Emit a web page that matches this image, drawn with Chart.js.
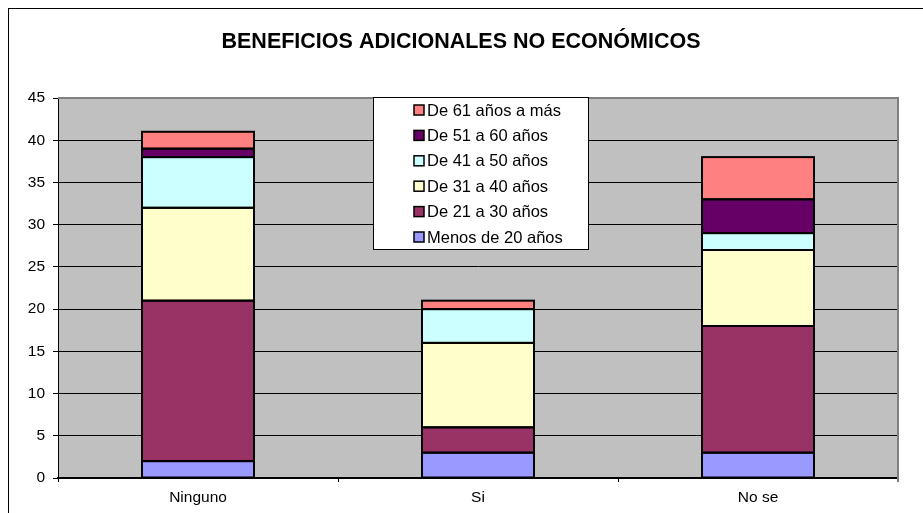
<!DOCTYPE html>
<html>
<head>
<meta charset="utf-8">
<script src="https://cdn.jsdelivr.net/npm/chart.js@4"></script>
<style>
  body { margin: 0; background: #fff; }
  #wrap { width: 923px; height: 513px; position: relative; }
</style>
</head>
<body>
<div id="wrap"><canvas id="benefChart"></canvas></div>
<script>
const categories = ["Ninguno", "Si", "No se"];
const seriesNames = ["Menos de 20 años", "De 21 a 30 años", "De 31 a 40 años",
                     "De 41 a 50 años", "De 51 a 60 años", "De 61 años a más"];
const menos20 = [2, 3, 3];
const de21a30 = [19, 3, 15];
const de31a40 = [11, 10, 9];
const de41a50 = [6, 4, 2];
const de51a60 = [1, 0, 4];
const de61mas = [2, 1, 5];
const yTicks = [0, 5, 10, 15, 20, 25, 30, 35, 40, 45];
const chartTitle = "BENEFICIOS ADICIONALES NO ECONÓMICOS";

const colors = ["#9999FF", "#993366", "#FFFFCC", "#CCFFFF", "#660066", "#FF8080"];
const allValues = [menos20, de21a30, de31a40, de41a50, de51a60, de61mas];

const FONT = "Arial, 'Liberation Sans', sans-serif";

// fondo gris del área, marco exterior, título y leyenda dentro del gráfico
const excelLook = {
    id: "excelLook",
    beforeDraw(chart) {
        const c = chart.ctx, a = chart.chartArea;
        c.save();
        c.fillStyle = "#fff";
        c.fillRect(0, 0, chart.width, chart.height);
        c.strokeStyle = "#000";
        c.lineWidth = 1;
        c.strokeRect(8.5, 8.5, chart.width + 10, chart.height + 10);
        c.fillStyle = "#C0C0C0";
        c.fillRect(a.left, a.top, a.right - a.left, a.bottom - a.top);
        c.restore();
    },
    afterDatasetsDraw(chart) {
        const c = chart.ctx, a = chart.chartArea;
        c.save();
        // contorno uniforme de cada segmento
        c.strokeStyle = "#000";
        c.lineWidth = 2;
        chart.data.datasets.forEach((d, di) => {
            chart.getDatasetMeta(di).data.forEach(bar => {
                const top = Math.min(bar.y, bar.base), h = Math.abs(bar.base - bar.y);
                c.strokeRect(bar.x - bar.width / 2, top, bar.width, h);
            });
        });
        // borde gris superior y derecho
        c.strokeStyle = "#808080";
        c.lineWidth = 2;
        c.beginPath();
        c.moveTo(a.left, a.top);
        c.lineTo(a.right, a.top);
        c.lineTo(a.right, a.bottom + 4);
        c.stroke();
        // título
        c.fillStyle = "#000";
        c.font = "bold 21.5px " + FONT;
        c.textAlign = "center";
        c.textBaseline = "middle";
        c.fillText(chartTitle, 461, 42);
        // leyenda
        const lx = 373, ly = 97, lw = 215, lh = 152;
        c.fillStyle = "#fff";
        c.fillRect(lx, ly, lw, lh);
        c.strokeStyle = "#000";
        c.lineWidth = 1;
        c.strokeRect(lx + 0.5, ly + 0.5, lw, lh);
        c.font = "16.5px " + FONT;
        c.textAlign = "left";
        const ds = chart.data.datasets;
        for (let i = 0; i < ds.length; i++) {
            const d = ds[ds.length - 1 - i];
            const y = 110 + i * 25.4;
            c.fillStyle = d.backgroundColor;
            c.fillRect(414, y - 5, 10, 10);
            c.strokeStyle = "#000";
            c.lineWidth = 1.5;
            c.strokeRect(414, y - 5, 10, 10);
            c.fillStyle = "#000";
            c.fillText(d.label, 427, y + 1);
        }
        c.restore();
    }
};

const datasets = seriesNames.map((name, i) => ({
    label: name,
    data: allValues[i],
    backgroundColor: colors[i],
    borderWidth: 0,
    inflateAmount: 0,
    barPercentage: 0.4,
    categoryPercentage: 1.0
}));

new Chart(document.getElementById("benefChart"), {
    type: "bar",
    data: { labels: categories, datasets: datasets },
    plugins: [excelLook],
    options: {
        responsive: true,
        maintainAspectRatio: false,
        animation: false,
        layout: { padding: { top: 98, right: 25, bottom: 0, left: 0 } },
        plugins: {
            legend: { display: false },
            title: { display: false },
            tooltip: { enabled: false }
        },
        scales: {
            x: {
                stacked: true,
                offset: true,
                grid: { display: true, drawOnChartArea: false, color: "#000", tickLength: 4, offset: true },
                border: { color: "#000", width: 2 },
                ticks: { color: "#000", font: { family: FONT, size: 15.5 }, padding: 6 },
                afterFit(scale) { scale.height = 35; }
            },
            y: {
                stacked: true,
                min: 0,
                max: 45,
                afterBuildTicks(scale) { scale.ticks = yTicks.map(v => ({ value: v })); },
                grid: { color: "#000", lineWidth: 1, tickLength: 5 },
                border: { color: "#000", width: 1 },
                ticks: { color: "#000", font: { family: FONT, size: 15.5 }, padding: 8 },
                afterFit(scale) { scale.width = 58; }
            }
        }
    }
});
</script>
</body>
</html>
